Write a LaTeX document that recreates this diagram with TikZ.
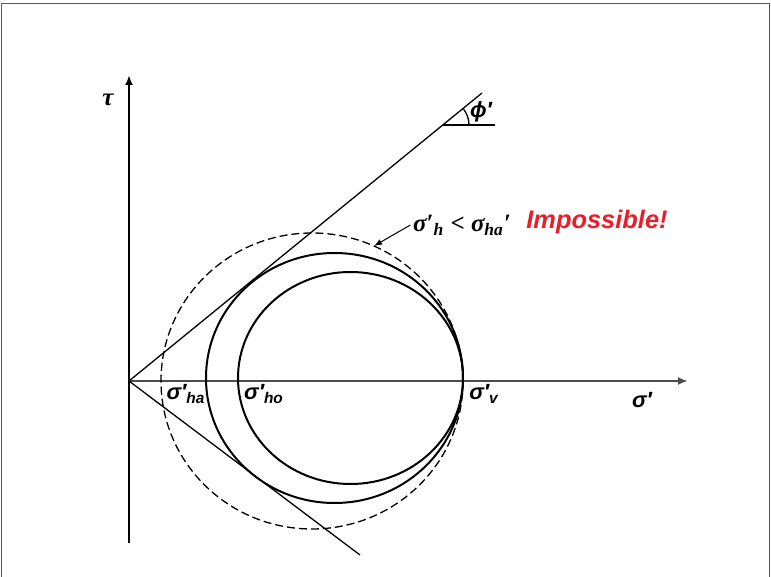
\documentclass[tikz,border=0pt]{standalone}
\usepackage{fontspec}
\setmainfont{Liberation Sans}
\newfontfamily\serifgr{Liberation Serif}
\usetikzlibrary{arrows.meta}
\definecolor{alarm}{RGB}{232,30,40}

\begin{document}
\begin{tikzpicture}[x=0.5pt,y=-0.5pt,line width=0.65pt,
  lbl/.style={font=\bfseries\itshape\fontsize{11}{13}\selectfont,inner sep=1pt},
  cond/.style={font=\serifgr\bfseries\itshape\fontsize{12.5}{15}\selectfont,inner sep=1pt},
  mohr/.style={line width=1pt}]
\useasboundingbox (0,0) rectangle (771,577);
\draw[gray!70!black,line width=0.8pt] (1.5,577)--(1.5,3.5)--(769.5,3.5)--(769.5,577);
\coordinate (O) at (129,381);
\coordinate (T) at (129,75);
\coordinate (B) at (129,543);
\coordinate (S) at (688,381);
\coordinate (U) at (482,93);
\coordinate (D) at (360,555);
\coordinate (P) at (443,125);
\coordinate (Q) at (495,125);
\coordinate (A) at (374,246);
\draw[line width=1.1pt,-{Latex[length=5pt,width=4pt]}] (B)--(T);
\draw[gray!60!black,line width=1pt,-{Latex[length=5pt,width=4pt]}] (O)--(S);
\draw (O)--(U);
\draw (O)--(D);
\draw (P)--(Q);
\draw ([xshift=13pt]P) arc[start angle=0,end angle=-39.2,radius=26];
\draw[dash pattern=on 4pt off 2pt] (312,381) ellipse[x radius=151,y radius=148];
\draw[mohr] (334.5,378) ellipse[x radius=128.5,y radius=125];
\draw[mohr] (350.5,378) ellipse[x radius=112.5,y radius=106];
\node[cond] (tau) at (108,100) {τ};
\node[lbl] (sig) at (642,400) {σ′};
\node[lbl] (ha) at (186,394) {σ′\textsubscript{ha}};
\node[lbl] (ho) at (264,394) {σ′\textsubscript{ho}};
\node[lbl] (v) at (484,394) {σ′\textsubscript{v}};
\node[lbl] (phi) at (481,112) {ϕ′};
\node[cond] (c) at (462,225) {σ′\textsubscript{h} < σ\textsubscript{ha}′};
\node[font=\bfseries\itshape\fontsize{12.7}{15}\selectfont,text=alarm,inner sep=1pt] (imp) at (597,222) {Impossible!};
\draw[line width=0.5pt,-{Latex[length=4pt,width=3pt]}] (c.west) -- (A);
\end{tikzpicture}
\end{document}
